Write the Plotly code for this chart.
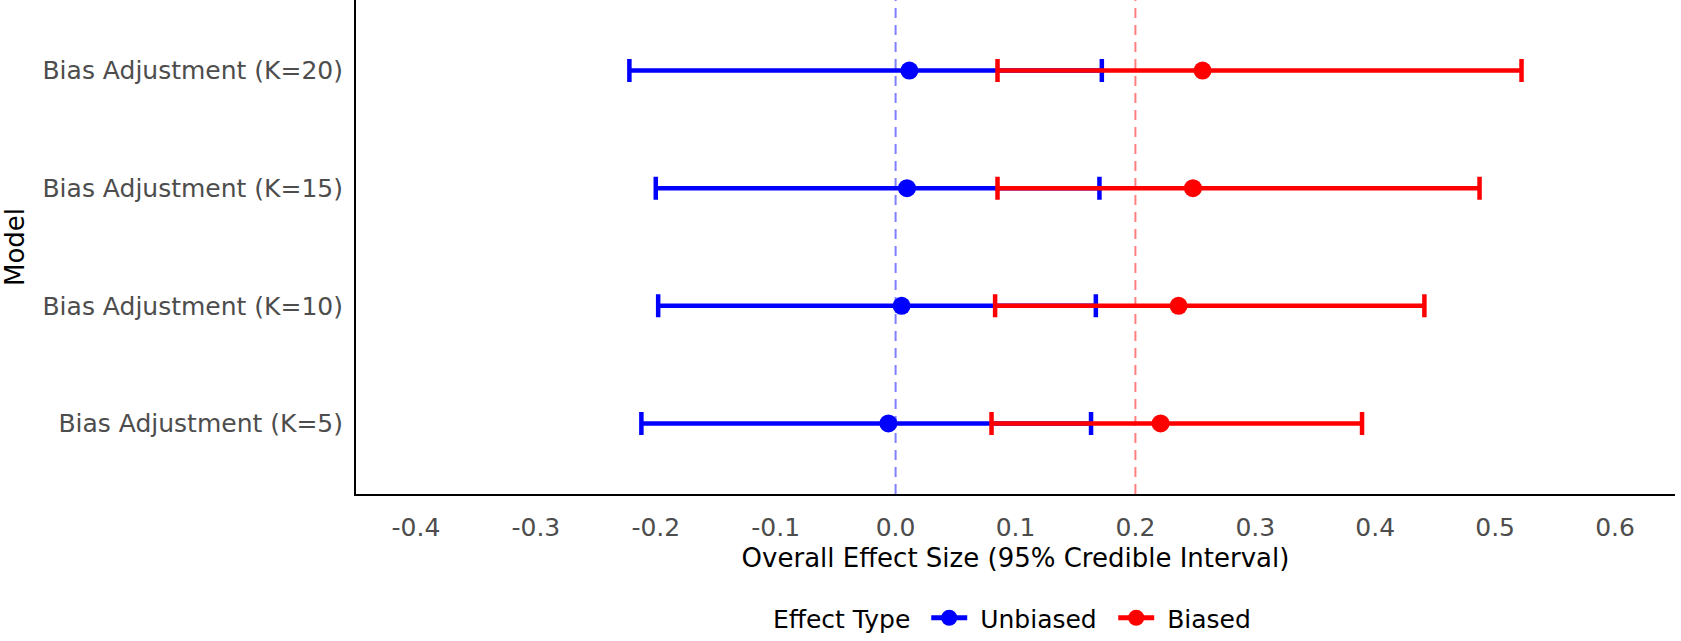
import plotly.graph_objects as go

models = ["Bias Adjustment (K=5)", "Bias Adjustment (K=10)",
          "Bias Adjustment (K=15)", "Bias Adjustment (K=20)"]

unbiased_est = [-0.006, 0.005, 0.0095, 0.0115]
unbiased_low = [-0.212, -0.198, -0.200, -0.222]
unbiased_high = [0.163, 0.167, 0.170, 0.172]

biased_est = [0.221, 0.236, 0.248, 0.256]
biased_low = [0.080, 0.083, 0.085, 0.085]
biased_high = [0.389, 0.441, 0.487, 0.522]

ref_unbiased = 0.0
ref_biased = 0.2

tick_vals = [-0.4, -0.3, -0.2, -0.1, 0.0, 0.1, 0.2, 0.3, 0.4, 0.5, 0.6]
tick_text = ["-0.4", "-0.3", "-0.2", "-0.1", "0.0", "0.1", "0.2", "0.3", "0.4", "0.5", "0.6"]

FONT = "DejaVu Sans"
BLUE = "#0000FF"
RED = "#FF0000"
NBSP = "\u00a0"

fig = go.Figure()


def add_series(name, est, low, high, color, legend_w):
    fig.add_trace(go.Scatter(
        x=est, y=models, mode="markers", name=name, showlegend=False,
        marker=dict(color=color, size=18),
        error_x=dict(type="data", symmetric=False,
                     array=[h - e for h, e in zip(high, est)],
                     arrayminus=[e - l for e, l in zip(est, low)],
                     color=color, thickness=4.5, width=11.5),
        cliponaxis=False,
    ))
    fig.add_trace(go.Scatter(
        x=[None], y=[None], mode="lines+markers", name=NBSP + name,
        line=dict(color=color, width=5),
        marker=dict(color=color, size=18),
        legendwidth=legend_w,
    ))


add_series("Unbiased", unbiased_est, unbiased_low, unbiased_high, BLUE, 136)
add_series("Biased", biased_est, biased_low, biased_high, RED, None)

fig.add_shape(type="line", xref="x", yref="paper", x0=ref_unbiased, x1=ref_unbiased,
              y0=0, y1=1, layer="below",
              line=dict(color="rgba(0,0,255,0.5)", width=2, dash="10px,7px"))
fig.add_shape(type="line", xref="x", yref="paper", x0=ref_biased, x1=ref_biased,
              y0=0, y1=1, layer="below",
              line=dict(color="rgba(255,0,0,0.5)", width=2, dash="10px,7px"))

fig.update_layout(
    width=1681, height=641,
    margin=dict(l=356, r=6, t=0, b=141),
    plot_bgcolor="white", paper_bgcolor="white",
    font=dict(family=FONT, size=25, color="black"),
    xaxis=dict(
        range=[-0.45, 0.65], tickvals=tick_vals, ticktext=tick_text,
        showgrid=False, zeroline=False, showline=True, linecolor="black", linewidth=2,
        ticks="", ticklabelstandoff=10,
        tickfont=dict(family=FONT, size=25, color="#4d4d4d"),
        title=dict(text="Overall Effect Size (95% Credible Interval)",
                   font=dict(family=FONT, size=26, color="black"), standoff=8),
    ),
    yaxis=dict(
        type="category", categoryorder="array", categoryarray=models,
        range=[-0.6, 3.6],
        showgrid=False, zeroline=False, showline=True, linecolor="black", linewidth=2,
        ticks="", ticklabelstandoff=6,
        tickfont=dict(family=FONT, size=25, color="#4d4d4d"),
        title=dict(text="Model", font=dict(family=FONT, size=26, color="black"), standoff=18),
    ),
    legend=dict(
        orientation="h", x=0.3146, xanchor="left", y=-0.252, yanchor="middle",
        title=dict(text="Effect Type" + NBSP, font=dict(family=FONT, size=25, color="black")),
        font=dict(family=FONT, size=25, color="black"),
        itemwidth=36,
        bgcolor="rgba(0,0,0,0)",
    ),
)

fig.write_html("out.html", config={"displayModeBar": False},
               post_script="document.body.style.margin='0px';")
